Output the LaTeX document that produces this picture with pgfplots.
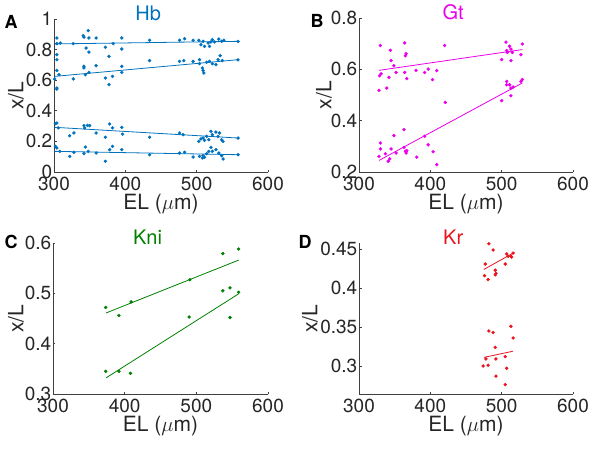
\documentclass[border=0pt]{standalone}
\usepackage{fontspec}
\setmainfont{TeX Gyre Heros}
\usepackage{pgfplots}
\pgfplotsset{compat=1.18}
\definecolor{hbblue}{RGB}{0,114,189}
\definecolor{gtmag}{RGB}{235,0,235}
\definecolor{knigreen}{RGB}{0,128,0}
\definecolor{krred}{RGB}{232,20,30}
\definecolor{axgray}{RGB}{64,64,64}
\definecolor{txgray}{RGB}{38,38,38}
\pgfplotsset{
  panel/.style={
    scale only axis,
    width=214pt,
    axis x line=bottom, axis y line=left,
    axis line style={-, axgray, line width=0.9pt},
    tick align=inside, major tick length=2.5pt,
    tick style={axgray, line width=0.8pt},
    xmin=300, xmax=600, xtick={300,400,500,600},
    /pgf/number format/assume math mode=true,
    ticklabel style={font=\fontsize{19}{21}\selectfont, text=txgray},
    yticklabel style={anchor=east, inner sep=0pt, xshift=-1.5pt},
    xticklabel style={anchor=north, inner sep=0pt, yshift=-5pt},
    label style={font=\fontsize{21}{24}\selectfont, text=txgray},
    xlabel={EL ($\mu$m)},
    ylabel={x/L},
    xlabel style={at={([yshift=-32pt]axis description cs:0.5,0)}, anchor=center},
    title style={at={(axis description cs:0.44,1)}, anchor=center, font=\fontsize{20}{22}\selectfont},
    clip=false,
  },
  pts/.style={only marks, mark=*, mark size=1.5pt},
  fit/.style={no marks, line width=0.8pt},
}
\begin{document}
\begin{tikzpicture}
\useasboundingbox (0,0) rectangle (598pt,448pt);
% ---------------- A ----------------
\begin{axis}[panel, at={(54pt,276pt)}, anchor=south west, height=153pt,
  ymin=0, ymax=1, ytick={0,0.2,0.4,0.6,0.8,1},
  ylabel style={at={([xshift=-38pt]axis description cs:0,0.5)}, anchor=center},
  title={\color{hbblue}Hb}]
\addplot[pts, hbblue] coordinates {
(304,0.839) (304,0.876) (309,0.843) (327,0.839) (341,0.891) (342,0.882) (348,0.924) (349,0.876)
(349,0.784) (345,0.810) (359,0.876) (372,0.815) (377,0.756) (383,0.839) (395,0.876) (395,0.804)
(434,0.861) (476,0.861) (483,0.871) (495,0.861) (503,0.861) (509,0.854) (506,0.832) (511,0.821)
(516,0.843) (520,0.850) (518,0.821) (525,0.850) (531,0.869) (535,0.854) (538,0.861) (522,0.865)
(558,0.853) (304,0.767) (304,0.734)
(304,0.542) (304,0.549) (301,0.608) (304,0.664) (307,0.636) (327,0.608) (342,0.691) (342,0.680)
(344,0.636) (349,0.651) (359,0.695) (372,0.614) (377,0.571) (382,0.625) (395,0.651) (395,0.691)
(434,0.728) (476,0.723) (482,0.728) (495,0.723) (504,0.734) (508,0.680) (509,0.664) (510,0.647)
(514,0.717) (518,0.723) (522,0.708) (527,0.702) (530,0.734) (533,0.760) (536,0.728) (504,0.708)
(558,0.733)
(302,0.316) (304,0.320) (306,0.288) (322,0.237) (328,0.255) (342,0.303) (343,0.288) (347,0.305)
(350,0.303) (359,0.255) (372,0.227) (378,0.314) (382,0.288) (395,0.292) (396,0.248) (434,0.227)
(476,0.255) (481,0.244) (503,0.200) (506,0.216) (509,0.222) (514,0.233) (517,0.211) (520,0.266)
(522,0.244) (527,0.261) (530,0.233) (532,0.255) (537,0.200) (535,0.211) (511,0.207) (558,0.222)
(302,0.168) (304,0.157) (308,0.135) (322,0.102) (328,0.129) (342,0.120) (344,0.163) (348,0.135)
(359,0.124) (372,0.070) (378,0.146) (382,0.168) (395,0.146) (434,0.113) (476,0.124) (483,0.129)
(495,0.098) (504,0.102) (508,0.092) (509,0.107) (514,0.120) (517,0.135) (520,0.161) (522,0.135)
(527,0.146) (531,0.124) (535,0.107) (537,0.085) (511,0.096) (558,0.113)
};
\addplot[fit, hbblue] coordinates {(301,0.837) (558,0.854)};
\addplot[fit, hbblue] coordinates {(301,0.625) (558,0.734)};
\addplot[fit, hbblue] coordinates {(301,0.292) (558,0.222)};
\addplot[fit, hbblue] coordinates {(301,0.135) (558,0.113)};
\end{axis}
% ---------------- B ----------------
\begin{axis}[panel, at={(359pt,276pt)}, anchor=south west, height=154pt,
  ymin=0.2, ymax=0.8, ytick={0.2,0.4,0.6,0.8},
  ylabel style={at={([xshift=-35pt]axis description cs:0,0.5)}, anchor=center},
  title={\color{gtmag}Gt}]
\addplot[pts, gtmag] coordinates {
(330,0.693) (331,0.583) (328,0.518) (339,0.527) (329,0.575) (342,0.569) (344,0.674) (345,0.634)
(349,0.614) (352,0.588) (364,0.703) (365,0.653) (366,0.661) (364,0.588) (367,0.564) (380,0.596)
(392,0.588) (397,0.601) (403,0.560) (409,0.595) (420,0.693) (500,0.638) (506,0.706) (508,0.666)
(511,0.690) (513,0.679) (513,0.634) (515,0.666) (529,0.699) (527,0.657) (507,0.673)
(328,0.261) (330,0.313) (330,0.290) (337,0.271) (341,0.242) (343,0.251) (345,0.290) (349,0.342)
(352,0.274) (363,0.365) (363,0.296) (365,0.281) (367,0.283) (366,0.274) (381,0.258) (392,0.339)
(397,0.306) (404,0.279) (409,0.229) (421,0.471) (500,0.478) (507,0.553) (507,0.540) (511,0.540)
(513,0.527) (513,0.497) (516,0.531) (529,0.560) (527,0.553)
};
\addplot[fit, gtmag] coordinates {(328,0.596) (529,0.677)};
\addplot[fit, gtmag] coordinates {(328,0.245) (529,0.547)};
\end{axis}
% ---------------- C ----------------
\begin{axis}[panel, at={(53pt,54pt)}, anchor=south west, height=151pt, width=215pt,
  ymin=0.3, ymax=0.6, ytick={0.3,0.4,0.5,0.6},
  ylabel style={at={([xshift=-37pt]axis description cs:0,0.5)}, anchor=center},
  title={\color{knigreen}Kni}]
\addplot[pts, knigreen] coordinates {
(373.5,0.472) (392,0.456) (409,0.483) (491,0.527) (537,0.579) (559,0.588)
(373.5,0.345) (392,0.345) (408,0.341) (490,0.453) (537,0.505) (547,0.511) (547,0.452) (559,0.502)
};
\addplot[fit, knigreen] coordinates {(374,0.461) (559,0.566)};
\addplot[fit, knigreen] coordinates {(374,0.332) (559,0.499)};
\end{axis}
% ---------------- D ----------------
\begin{axis}[panel, at={(359pt,54pt)}, anchor=south west, height=151pt,
  ymin=0.264, ymax=0.458, ytick={0.3,0.35,0.4,0.45},
  ylabel style={at={([xshift=-49pt]axis description cs:0,0.5)}, anchor=center},
  title={\color{krred}Kr}]
\addplot[pts, krred] coordinates {
(482,0.457) (488,0.449) (477,0.431) (476,0.416) (481,0.411) (491,0.423) (492,0.419) (491,0.417)
(505,0.431) (507,0.444) (509,0.441) (513,0.441) (516,0.445) (514,0.440)
(482,0.345) (488,0.343) (513,0.351) (516,0.336) (491,0.324) (478,0.309) (474,0.300) (481,0.301)
(492,0.309) (505,0.312) (507,0.297) (492,0.287) (505,0.276)
};
\addplot[fit, krred] coordinates {(475,0.424) (518,0.446)};
\addplot[fit, krred] coordinates {(475,0.311) (516,0.319)};
\end{axis}
% panel letters
\node[font=\fontsize{18}{20}\selectfont\bfseries, text=black] at (11pt,426pt) {A};
\node[font=\fontsize{18}{20}\selectfont\bfseries, text=black] at (317pt,427pt) {B};
\node[font=\fontsize{18}{20}\selectfont\bfseries, text=black] at (11pt,206pt) {C};
\node[font=\fontsize{18}{20}\selectfont\bfseries, text=black] at (305pt,206pt) {D};
\end{tikzpicture}
\end{document}
